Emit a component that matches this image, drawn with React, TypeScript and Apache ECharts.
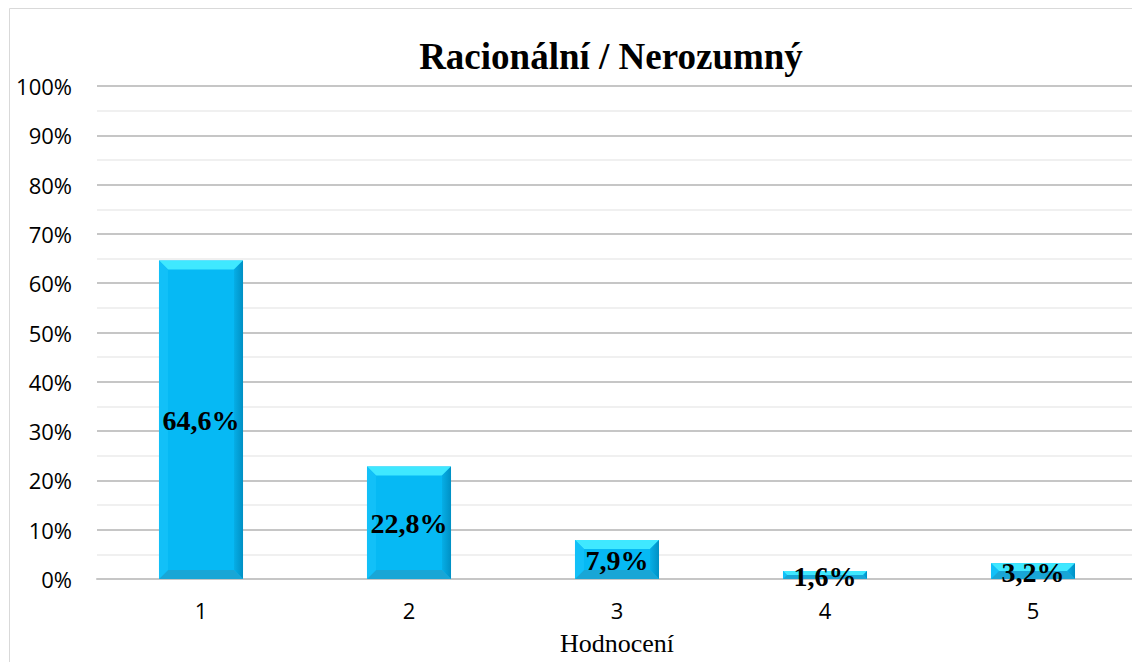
import React, { useEffect, useRef } from "react";
import * as echarts from "echarts";

const categories: string[] = ["1", "2", "3", "4", "5"];
const values: number[] = [64.6, 22.8, 7.9, 1.6, 3.2];
const valueLabels: string[] = ["64,6%", "22,8%", "7,9%", "1,6%", "3,2%"];
const titleText = "Racionální / Nerozumný";
const xAxisName = "Hodnocení";

export default function App() {
  const ref = useRef<HTMLDivElement>(null);
  useEffect(() => {
    if (!ref.current) return;
    const chart = echarts.init(ref.current, undefined, { renderer: "svg" });
    const option: any = {
      animation: false,
      backgroundColor: "#ffffff",
      grid: {
        left: 97,
        right: -5,
        top: 86,
        bottom: 83,
        containLabel: false,
        outerBoundsMode: "none",
      },
      graphic: [
        {
          type: "rect",
          shape: { x: 9.5, y: 8.5, width: 1300, height: 1000 },
          style: { fill: "none", stroke: "#d9d9d9", lineWidth: 1 },
          silent: true,
          z: -10,
        },
        {
          type: "text",
          x: 611,
          y: 56,
          style: {
            text: titleText,
            font: "bold 37px 'Liberation Serif', 'Times New Roman', serif",
            fill: "#000000",
            textAlign: "center",
            textVerticalAlign: "middle",
          },
        },
      ],
      xAxis: {
        type: "category",
        data: categories,
        boundaryGap: true,
        name: xAxisName,
        nameLocation: "middle",
        nameGap: 51,
        nameTextStyle: {
          fontFamily: "'Liberation Serif', 'Times New Roman', serif",
          fontSize: 26,
          color: "#000000",
        },
        axisLine: { show: true, lineStyle: { color: "#c6c6c6", width: 2 } },
        axisTick: { show: false },
        axisLabel: {
          margin: 20,
          fontFamily: "'Open Sans', sans-serif",
          fontSize: 22,
          color: "#000000",
        },
      },
      yAxis: {
        type: "value",
        min: 0,
        max: 100,
        interval: 10,
        axisLine: { show: false },
        axisTick: { show: false },
        minorTick: { show: false, splitNumber: 2 },
        axisLabel: {
          formatter: "{value}%",
          margin: 25,
          fontFamily: "'Open Sans', sans-serif",
          fontSize: 22,
          color: "#000000",
        },
        splitLine: { show: true, lineStyle: { color: "#c6c6c6", width: 2 } },
        minorSplitLine: { show: true, lineStyle: { color: "#f0f0f0", width: 2 } },
      },
      series: [
        {
          type: "custom",
          data: values.map((v, i) => [i, v]),
          renderItem: (params: any, api: any) => {
            const xi = api.value(0);
            const yv = api.value(1);
            const top = api.coord([xi, yv]);
            const base = api.coord([xi, 0]);
            const w = api.size([1, 0])[0] * 0.404;
            const l = top[0] - w / 2;
            const r = top[0] + w / 2;
            const t = top[1];
            const b = base[1];
            const h = b - t;
            const bv = Math.min(9, h / 2);
            return {
              type: "group",
              children: [
                { type: "rect", shape: { x: l, y: t, width: w, height: h }, style: { fill: "#06b9f4" } },
                {
                  type: "polygon",
                  shape: { points: [[l, t], [r, t], [r - bv, t + bv], [l + bv, t + bv]] },
                  style: { fill: "#3fe8ff" },
                },
                {
                  type: "polygon",
                  shape: { points: [[r, t], [r, b], [r - bv, b - bv], [r - bv, t + bv]] },
                  style: {
                    fill: new echarts.graphic.LinearGradient(0, 0, 1, 0, [
                      { offset: 0, color: "#06aee6" },
                      { offset: 1, color: "#0090c4" },
                    ]),
                  },
                },
                {
                  type: "polygon",
                  shape: { points: [[l, b], [r, b], [r - bv, b - bv], [l + bv, b - bv]] },
                  style: { fill: "#19a6d6" },
                },
                {
                  type: "polygon",
                  shape: { points: [[l, t], [l + bv, t + bv], [l + bv, b - bv], [l, b]] },
                  style: { fill: "#12c0f8" },
                },
                {
                  type: "text",
                  x: top[0],
                  y: (t + b) / 2 + 1,
                  style: {
                    text: valueLabels[params.dataIndex],
                    font: "bold 28px 'Liberation Serif', 'Times New Roman', serif",
                    fill: "#000000",
                    textAlign: "center",
                    textVerticalAlign: "middle",
                  },
                  z2: 10,
                },
              ],
            };
          },
        },
      ],
    };
    chart.setOption(option);
    return () => chart.dispose();
  }, []);
  return (
    <div
      ref={ref}
      style={{ position: "fixed", left: 0, top: 0, width: 1132, height: 662, overflow: "hidden" }}
    />
  );
}
